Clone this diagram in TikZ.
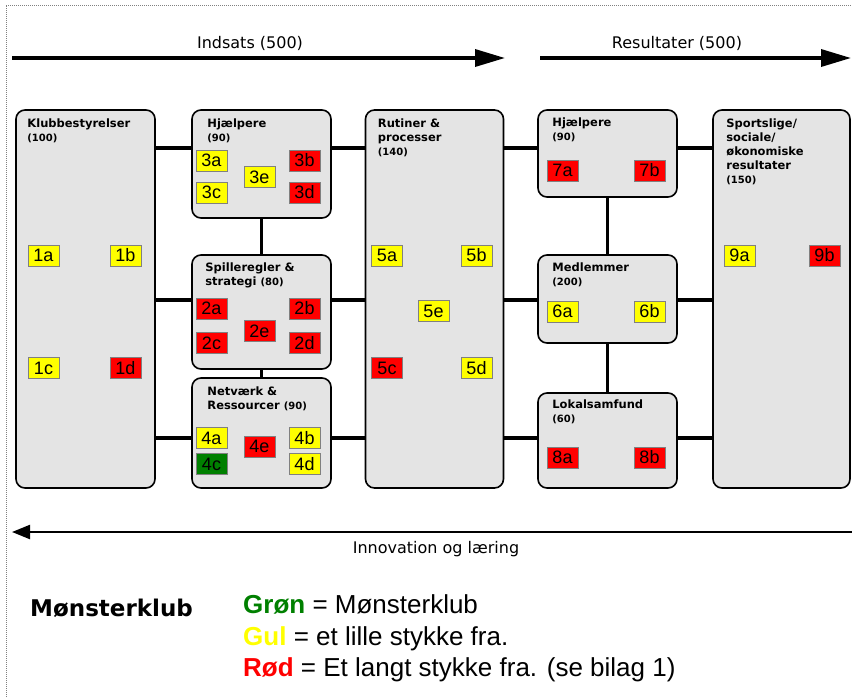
\documentclass[tikz,border=0pt]{standalone}
\usepackage{fontspec}
\usetikzlibrary{positioning, arrows.meta}

\newfontfamily\verd{DejaVu Sans}
\newfontfamily\arial{Liberation Sans}

\definecolor{gul}{RGB}{255,255,0}
\definecolor{roed}{RGB}{255,0,0}
\definecolor{groen}{RGB}{0,128,0}
\definecolor{felt}{RGB}{228,228,228}

\newcommand{\antal}[1]{{\fontsize{10}{11}\selectfont(#1)}}

\tikzset{
  area/.style={draw, line width=1.6pt, rounded corners=9pt, fill=felt},
  ttl/.style={inner sep=0pt, align=left,
    font=\verd\bfseries\fontsize{11.5}{14}\selectfont},
  tag/.style={draw=gray, line width=0.8pt, minimum width=31pt,
    minimum height=21pt, inner sep=0pt,
    font=\arial\fontsize{18}{18}\selectfont},
  ylw/.style={tag, fill=gul},
  rd/.style={tag, fill=roed},
  grn/.style={tag, fill=groen},
  link/.style={line width=3.5pt},
  flow/.style={line width=3.5pt, -{Triangle[length=30pt, width=17pt]}},
  back/.style={line width=2.2pt, -{Triangle[length=18pt, width=14pt]}},
  lgd/.style={anchor=base west, inner sep=0pt,
    font=\arial\fontsize{26}{31}\selectfont},
}

\begin{document}
\begin{tikzpicture}[x=1pt, y=-1pt]
  \useasboundingbox (0,0) rectangle (852,697);
  \draw[gray, line width=1pt, dash pattern=on 1pt off 1pt] (6,697) -- (6,5) -- (852,5);

  % top and bottom arrows
  \coordinate (ind1) at (12,58);
  \coordinate (ind2) at (505,58);
  \coordinate (res1) at (540,58);
  \coordinate (res2) at (851,58);
  \coordinate (inn1) at (852,532);
  \coordinate (inn2) at (12,532);
  \draw[flow] (ind1) -- (ind2);
  \draw[flow] (res1) -- (res2);
  \draw[back] (inn1) -- (inn2);
  \node[font=\verd\fontsize{16}{18}\selectfont] (indlbl) at (250,43) {Indsats (500)};
  \node[font=\verd\fontsize{16}{18}\selectfont] (reslbl) at (677,43) {Resultater (500)};
  \node[font=\verd\fontsize{16}{18}\selectfont] (innlbl) at (436,549) {Innovation og læring};

  % areas
  \node[area, minimum width=139pt, minimum height=378pt] (klub)  at (85.5,299) {};
  \node[area, minimum width=139pt, minimum height=108pt] (hjA)   at (261.5,164) {};
  \node[area, minimum width=139pt, minimum height=114pt] (spil)  at (261.5,312) {};
  \node[area, minimum width=139pt, minimum height=110pt] (net)   at (261.5,433) {};
  \node[area, minimum width=138pt, minimum height=378pt] (rut)   at (434.5,299) {};
  \node[area, minimum width=139pt, minimum height=87pt]  (hjB)   at (607.5,153.5) {};
  \node[area, minimum width=139pt, minimum height=88pt]  (med)   at (607.5,299) {};
  \node[area, minimum width=139pt, minimum height=95pt]  (lok)   at (607.5,440.5) {};
  \node[area, minimum width=137pt, minimum height=378pt] (sport) at (781.5,299) {};

  % connectors
  \coordinate (r1) at (0,148);
  \coordinate (r2) at (0,300);
  \coordinate (r3) at (0,438);
  \foreach \a/\b in {klub/hjA, hjA/rut, rut/hjB, hjB/sport}
    \draw[link] (\a.east |- r1) -- (\b.west |- r1);
  \foreach \a/\b in {klub/spil, spil/rut, rut/med, med/sport}
    \draw[link] (\a.east |- r2) -- (\b.west |- r2);
  \foreach \a/\b in {klub/net, net/rut, rut/lok, lok/sport}
    \draw[link] (\a.east |- r3) -- (\b.west |- r3);
  \draw[link] (hjA) -- (spil);
  \draw[link] (spil) -- (net);
  \draw[link] (hjB) -- (med);
  \draw[link] (med) -- (lok);

  % titles
  \node[ttl, below right=9pt and 12pt of klub.north west] (tklub) {Klubbestyrelser\\\antal{100}};
  \node[ttl, below right=9pt and 16pt of hjA.north west] (thjA) {Hjælpere\\\antal{90}};
  \node[ttl, below right=8pt and 14pt of spil.north west] (tspil) {Spilleregler \&\\strategi \antal{80}};
  \node[ttl, below right=9pt and 16pt of net.north west] (tnet) {Netværk \&\\Ressourcer \antal{90}};
  \node[ttl, below right=9pt and 13pt of rut.north west] (trut) {Rutiner \&\\processer\\\antal{140}};
  \node[ttl, below right=8pt and 15pt of hjB.north west] (thjB) {Hjælpere\\\antal{90}};
  \node[ttl, below right=8pt and 15pt of med.north west] (tmed) {Medlemmer\\\antal{200}};
  \node[ttl, below right=7pt and 15pt of lok.north west] (tlok) {Lokalsamfund\\\antal{60}};
  \node[ttl, below right=9pt and 14pt of sport.north west] (tsport) {Sportslige/\\sociale/\\økonomiske\\resultater\\\antal{150}};

  % status tags
  \node[ylw] (t1a) at (43.5,255.5) {1a};
  \node[ylw] (t1b) at (125.5,255.5) {1b};
  \node[ylw] (t1c) at (43.5,368) {1c};
  \node[rd]  (t1d) at (125.5,368) {1d};
  \node[ylw] (t3a) at (211.5,160.5) {3a};
  \node[rd]  (t3b) at (304.5,160.5) {3b};
  \node[ylw] (t3c) at (211.5,192.5) {3c};
  \node[rd]  (t3d) at (304.5,192.5) {3d};
  \node[ylw] (t3e) at (259.5,177) {3e};
  \node[rd]  (t2a) at (211.5,308.5) {2a};
  \node[rd]  (t2b) at (304.5,308.5) {2b};
  \node[rd]  (t2c) at (211.5,343) {2c};
  \node[rd]  (t2d) at (304.5,343) {2d};
  \node[rd]  (t2e) at (259.5,331) {2e};
  \node[ylw] (t4a) at (211.5,438) {4a};
  \node[ylw] (t4b) at (304.5,438) {4b};
  \node[grn] (t4c) at (211.5,464) {4c};
  \node[ylw] (t4d) at (304.5,464) {4d};
  \node[rd]  (t4e) at (259.5,446.5) {4e};
  \node[ylw] (t5a) at (387,255.5) {5a};
  \node[ylw] (t5b) at (476.5,255.5) {5b};
  \node[rd]  (t5c) at (387,368) {5c};
  \node[ylw] (t5d) at (476.5,368) {5d};
  \node[ylw] (t5e) at (433.5,311) {5e};
  \node[rd]  (t7a) at (562.5,170.5) {7a};
  \node[rd]  (t7b) at (649.5,170.5) {7b};
  \node[ylw] (t6a) at (562.5,311.5) {6a};
  \node[ylw] (t6b) at (649.5,311.5) {6b};
  \node[rd]  (t8a) at (562.5,457.5) {8a};
  \node[rd]  (t8b) at (649.5,457.5) {8b};
  \node[ylw] (t9a) at (739.5,255.5) {9a};
  \node[rd]  (t9b) at (824.5,255.5) {9b};

  % legend
  \node[anchor=west, inner sep=0pt, font=\verd\bfseries\fontsize{23}{26}\selectfont] (mk) at (30,608) {Mønsterklub};
  \node[lgd] (l1) at (243,613) {\textcolor{groen}{\bfseries Grøn} = Mønsterklub};
  \node[lgd] (l2) at (243,645) {\textcolor{gul}{\bfseries Gul} = et lille stykke fra.};
  \node[lgd] (l3) at (243,676) {\textcolor{roed}{\bfseries Rød} = Et langt stykke fra. (se bilag 1)};
\end{tikzpicture}
\end{document}
